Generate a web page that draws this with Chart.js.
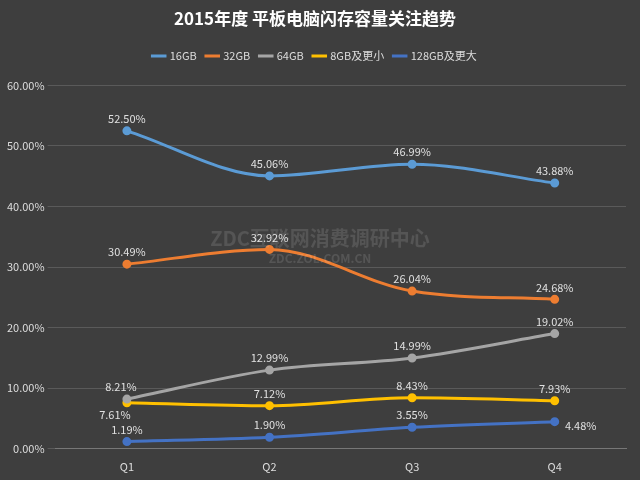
<!DOCTYPE html>
<html><head><meta charset="utf-8">
<script src="https://cdn.jsdelivr.net/npm/chart.js@4"></script>
<style>body{margin:0;background:#3e3e3e}#w{width:640px;height:480px}</style>
</head><body><div id="w"><canvas id="c"></canvas></div>
<script>
const quarters = ['Q1', 'Q2', 'Q3', 'Q4'];
const s16 = [52.50, 45.06, 46.99, 43.88];
const s32 = [30.49, 32.92, 26.04, 24.68];
const s64 = [8.21, 12.99, 14.99, 19.02];
const s8 = [7.61, 7.12, 8.43, 7.93];
const s128 = [1.19, 1.90, 3.55, 4.48];

const font = '"Noto Sans CJK SC", "Noto Sans", sans-serif';
function ds(label, data, color) {
  return {label, data, borderColor: color, backgroundColor: color, pointBackgroundColor: color,
    borderWidth: 3, pointRadius: 3, tension: 0.4, cubicInterpolationMode: 'monotone'};
}

const labelPlugin = {
  id: 'labels',
  afterDatasetsDraw(chart) {
    const ctx = chart.ctx;
    ctx.save();
    ctx.font = '11px ' + font;
    ctx.fillStyle = '#e0e0e0';
    ctx.textAlign = 'center';
    chart.data.datasets.forEach((d, i) => {
      chart.getDatasetMeta(i).data.forEach((p, j) => {
        let dx = 0, dy = -12;
        if (i === 3 && j === 0) { dx = -12; dy = 12; }
        if (i === 2 && j === 0) { dx = -6; }
        if (i === 4 && j === 3) { dx = 26; dy = 4; }
        ctx.fillText(d.data[j].toFixed(2) + '%', p.x + dx, p.y + dy);
      });
    });
    ctx.font = 'bold 20px ' + font;
    ctx.fillStyle = 'rgba(255,255,255,0.12)';
    ctx.fillText('ZDC互联网消费调研中心', 320, 238);
    ctx.font = 'bold 12px ' + font;
    ctx.fillText('ZDC.ZOL.COM.CN', 320, 258);
    ctx.restore();
  }
};

new Chart(document.getElementById('c'), {
  type: 'line',
  data: {
    labels: quarters,
    datasets: [
      ds('16GB', s16, '#5b9bd5'),
      ds('32GB', s32, '#ed7d31'),
      ds('64GB', s64, '#a5a5a5'),
      ds('8GB及更小', s8, '#ffc000'),
      ds('128GB及更大', s128, '#4472c4')
    ]
  },
  options: {
    responsive: true,
    maintainAspectRatio: false,
    animation: false,
    layout: {padding: {left: 4, right: 14, bottom: 4}},
    scales: {
      x: {offset: true, grid: {display: false}, border: {color: '#777'},
        ticks: {color: '#ddd', font: {size: 11, family: font}}},
      y: {min: 0, max: 60, grid: {color: '#5a5a5a'}, border: {display: false},
        ticks: {stepSize: 10, color: '#ddd', font: {size: 11, family: font},
          callback: v => v.toFixed(2) + '%'}}
    },
    plugins: {
      title: {display: true, text: '2015年度 平板电脑闪存容量关注趋势', color: '#fff',
        font: {size: 17, weight: 'bold', family: font}, padding: {top: 8, bottom: 12}},
      legend: {labels: {color: '#ddd', usePointStyle: true, pointStyle: 'line', boxWidth: 28,
        padding: 10, font: {size: 11, family: font}}},
      tooltip: {enabled: false}
    }
  },
  plugins: [labelPlugin, {id: 'legendGap', beforeInit(chart) {
    const fit = chart.legend.fit;
    chart.legend.fit = function() { fit.bind(chart.legend)(); this.height += 14; };
  }}]
});
</script></body></html>
